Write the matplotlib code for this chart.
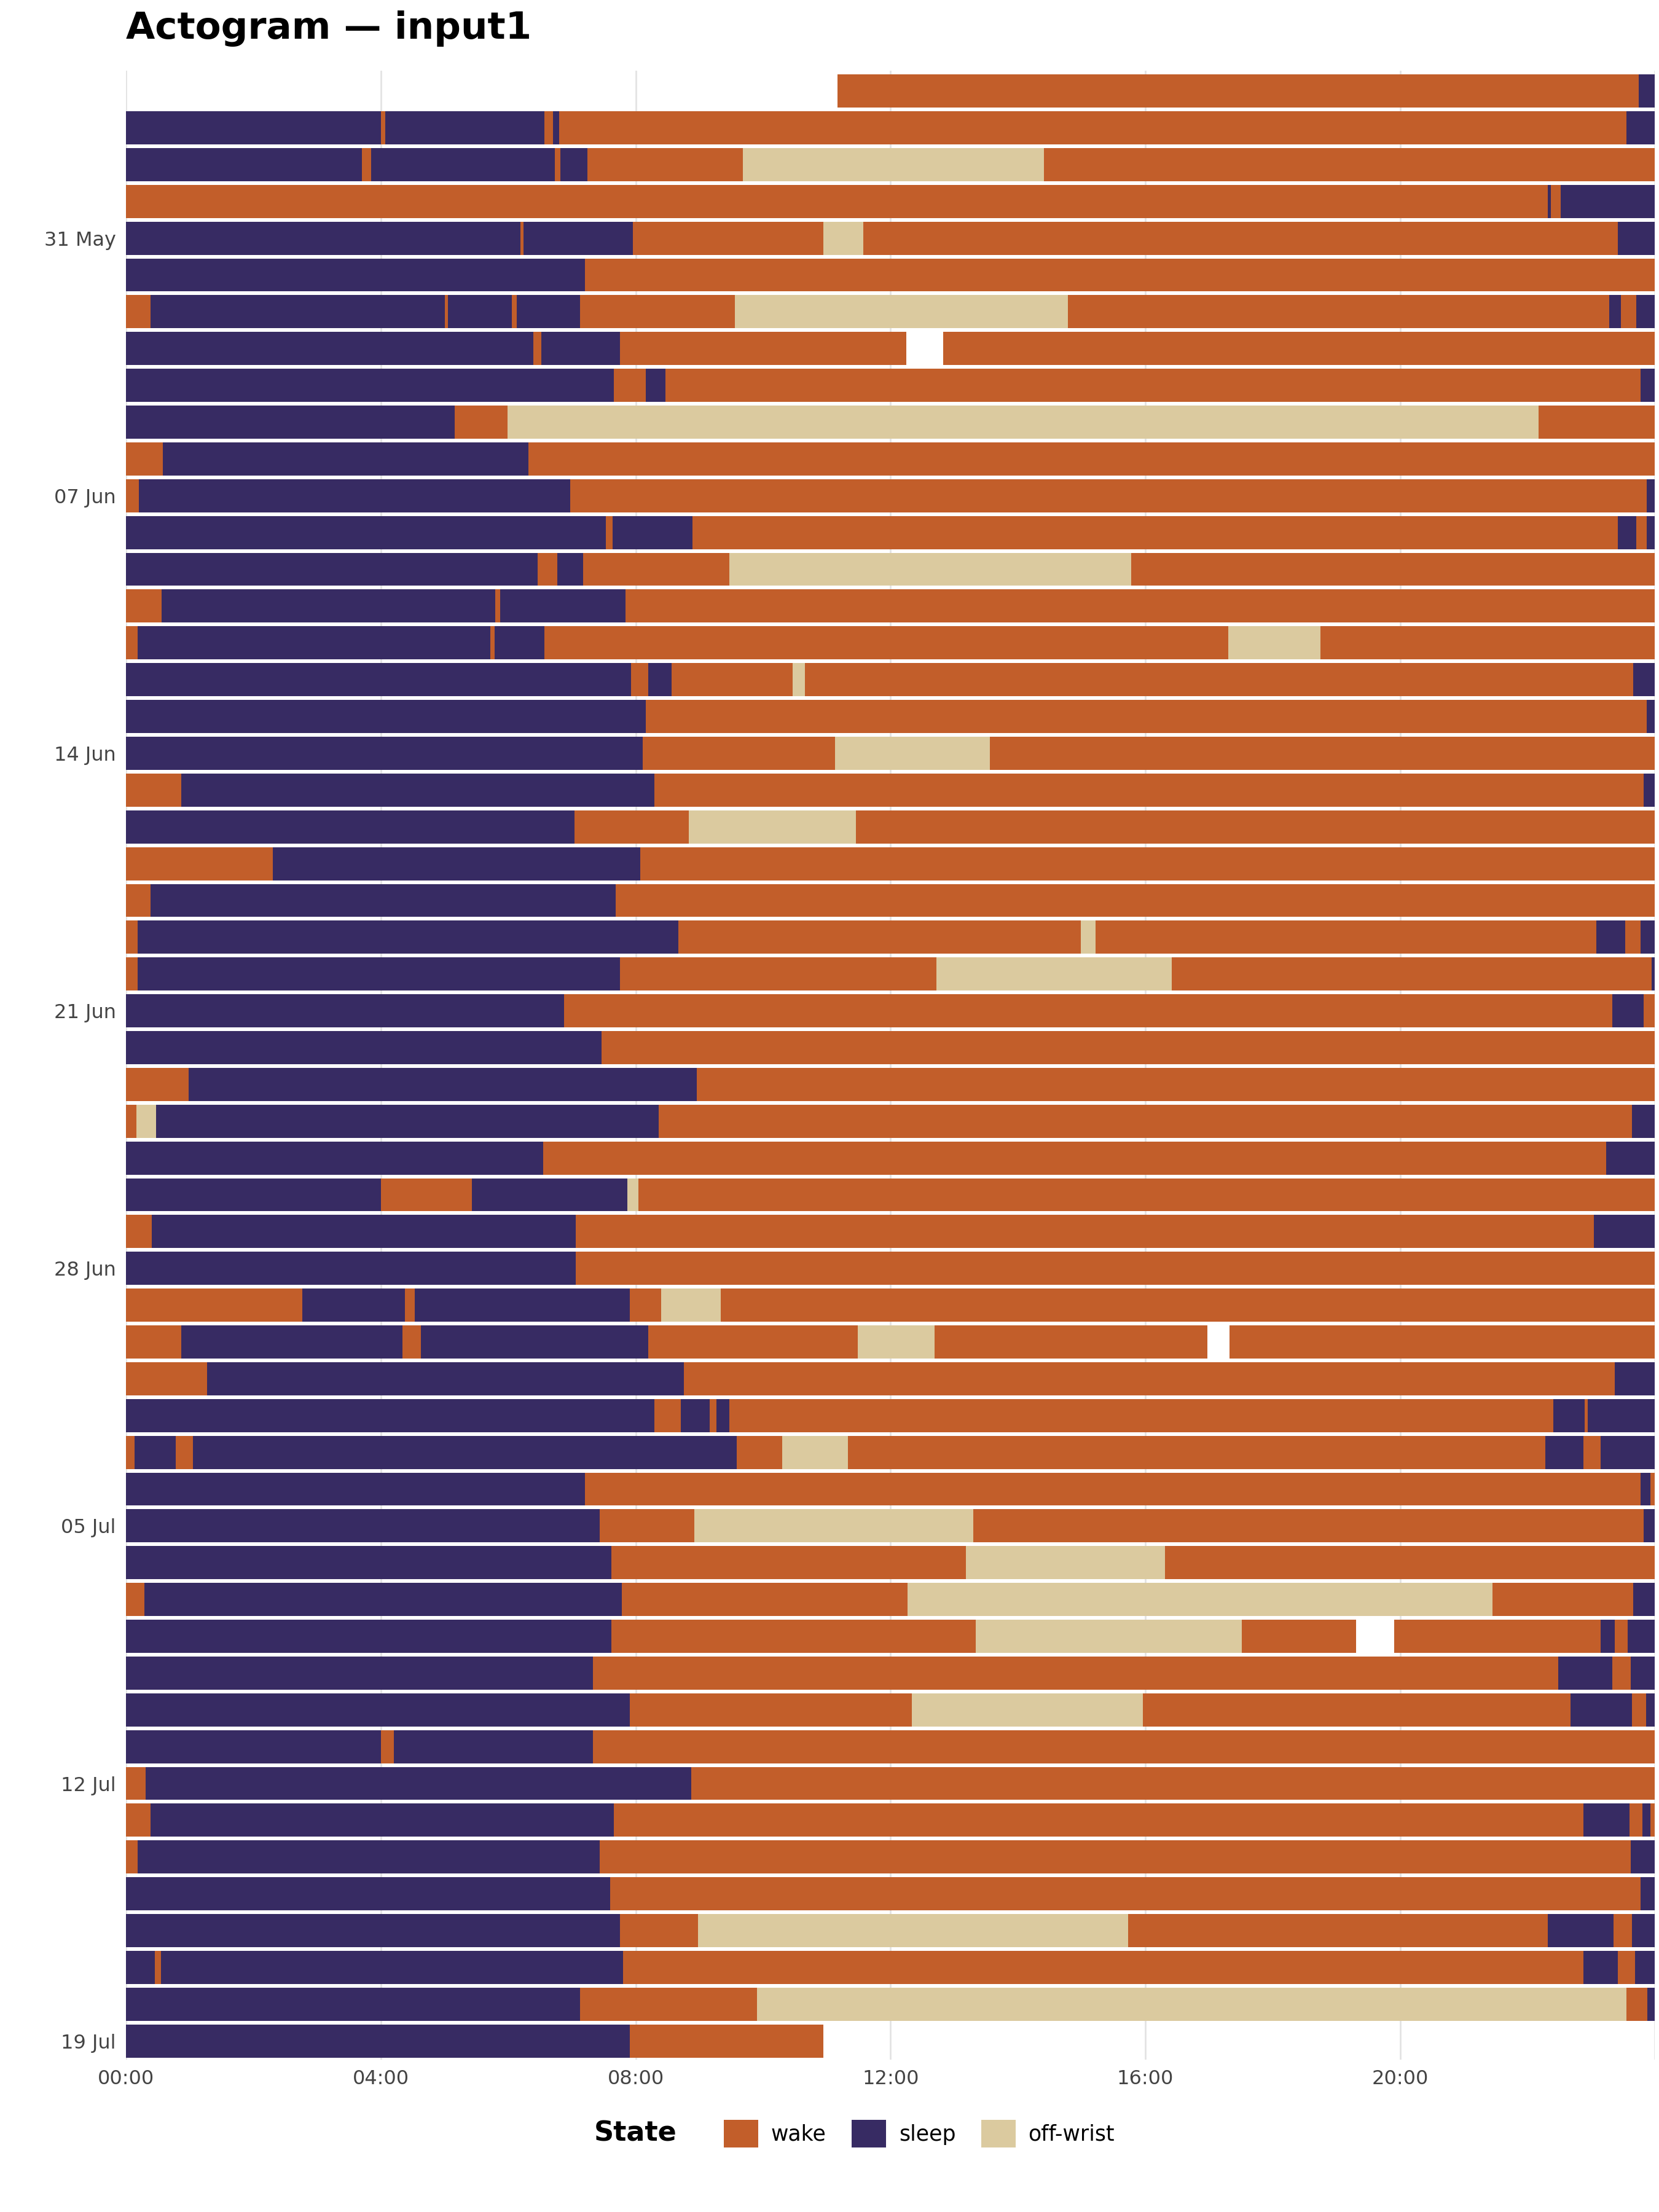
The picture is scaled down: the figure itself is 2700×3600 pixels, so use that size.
import matplotlib
matplotlib.use("Agg")
import matplotlib.pyplot as plt
from matplotlib.patches import Patch
import pandas as pd

start_date = "2025-05-27"
n_days = 54
state_names = {"W": "wake", "S": "sleep", "O": "off-wrist", "N": None}
colors = {"wake": "#C25E2A", "sleep": "#372B63", "off-wrist": "#DBCA9F"}

# per-day transitions: state code + start hour; each runs until the next one
segments = [
    "N0 W11.17 S23.75",
    "S0 W4.0 S4.07 W6.57 S6.7 W6.8 S23.55",
    "S0 W3.7 S3.85 W6.73 S6.82 W7.24 O9.68 W14.41",
    "W0 S22.32 W22.37 S22.52",
    "S0 W6.19 S6.24 W7.96 O10.95 W11.57 S23.42",
    "S0 W7.2",
    "W0 S0.38 W5.0 S5.05 W6.06 S6.13 W7.13 O9.56 W14.79 S23.28 W23.47 S23.71",
    "S0 W6.39 S6.52 W7.75 N12.25 W12.83",
    "S0 W7.66 S8.16 W8.47 S23.78",
    "S0 W5.16 O5.99 W22.17",
    "W0 S0.58 W6.32",
    "W0 S0.2 W6.97 S23.87",
    "S0 W7.53 S7.64 W8.89 S23.42 W23.71 S23.87",
    "S0 W6.46 S6.77 W7.17 O9.47 W15.78",
    "W0 S0.56 W5.8 S5.87 W7.84",
    "W0 S0.18 W5.72 S5.79 W6.57 O17.3 W18.75",
    "S0 W7.93 S8.2 W8.56 O10.46 W10.66 S23.66",
    "S0 W8.16 S23.87",
    "S0 W8.11 O11.13 W13.56",
    "W0 S0.87 W8.29 S23.82",
    "S0 W7.04 O8.83 W11.46",
    "W0 S2.3 W8.07",
    "W0 S0.38 W7.69",
    "W0 S0.18 W8.67 O14.99 W15.22 S23.08 W23.53 S23.78",
    "W0 S0.18 W7.75 O12.72 W16.42 S23.95",
    "S0 W6.88 S23.33 W23.82",
    "S0 W7.46",
    "W0 S0.98 W8.96",
    "W0 O0.16 S0.47 W8.36 S23.64",
    "S0 W6.55 S23.24",
    "S0 W4.0 S5.43 O7.87 W8.04",
    "W0 S0.4 W7.06 S23.04",
    "S0 W7.06",
    "W0 S2.77 W4.38 S4.53 W7.91 O8.4 W9.34",
    "W0 S0.87 W4.34 S4.63 W8.2 O11.49 W12.69 N16.98 W17.32",
    "W0 S1.27 W8.76 S23.37",
    "S0 W8.29 S8.71 W9.16 S9.27 W9.47 S22.41 W22.9 S22.95",
    "W0 S0.13 W0.78 S1.05 W9.59 O10.3 W11.33 S22.28 W22.88 S23.15",
    "S0 W7.2 S23.78 W23.93",
    "S0 W7.44 O8.92 W13.3 S23.82",
    "S0 W7.62 O13.18 W16.31",
    "W0 S0.29 W7.78 O12.27 W21.45 S23.66",
    "S0 W7.62 O13.34 W17.52 N19.31 W19.91 S23.15 W23.37 S23.57",
    "S0 W7.33 S22.48 W23.33 S23.62",
    "S0 W7.91 O12.34 W15.96 S22.68 W23.64 S23.86",
    "S0 W4.0 S4.2 W7.33",
    "W0 S0.31 W8.87",
    "W0 S0.38 W7.66 S22.88 W23.6 S23.8 W23.93",
    "W0 S0.18 W7.44 S23.62",
    "S0 W7.6 S23.78",
    "S0 W7.75 O8.98 W15.73 S22.32 W23.35 S23.64",
    "S0 W0.45 S0.55 W7.8 S22.88 W23.42 S23.69",
    "S0 W7.13 O9.9 W23.55 S23.88",
    "S0 W7.91 N10.95",
]

plt.rcParams['font.family'] = ['DejaVu Sans']
fig = plt.figure(figsize=(27, 36), dpi=100)
ax = fig.add_axes([0.076, 0.069, 0.9215, 0.899])

for h in range(0, 25, 4):
    ax.axvline(h, color="#E3E3E3", lw=2, zorder=0)

for i, s in enumerate(segments):
    toks = [(t[0], float(t[1:])) for t in s.split()]
    for j, (code, st) in enumerate(toks):
        en = toks[j + 1][1] if j + 1 < len(toks) else 24.0
        name = state_names[code]
        if name is None:
            continue
        ax.barh(i, en - st, left=st, height=0.9, color=colors[name], lw=0, zorder=2)

dates = pd.date_range(start_date, periods=n_days, freq="D")
tick_idx = [i for i, d in enumerate(dates) if (d - pd.Timestamp("2025-05-31")).days % 7 == 0]
ax.set_yticks(tick_idx)
ax.set_yticklabels([dates[i].strftime("%d %b") for i in tick_idx], fontsize=23, color="#444444")
ax.set_xticks(range(0, 24, 4))
ax.set_xticklabels([f"{h:02d}:00" for h in range(0, 24, 4)], fontsize=23, color="#444444")
ax.set_xlim(0, 24)
ax.set_ylim(n_days - 0.5, -0.55)
for sp in ax.spines.values():
    sp.set_visible(False)
ax.tick_params(length=0, pad=12)

fig.text(0.076, 0.979, "Actogram — input1", fontsize=44, fontweight="bold", va="bottom")

handles = [Patch(facecolor=colors[k], label=k) for k in ["wake", "sleep", "off-wrist"]]
fig.text(0.358, 0.0355, "State", fontsize=32, fontweight="bold", va="center", ha="left")
leg = fig.legend(handles=handles, loc="center left", bbox_to_anchor=(0.43, 0.0355), ncol=3,
                 frameon=False, fontsize=25, handlelength=1.6, handleheight=1.6,
                 columnspacing=1.2, handletextpad=0.6, borderpad=0)
fig.savefig("out.png", dpi=100)
